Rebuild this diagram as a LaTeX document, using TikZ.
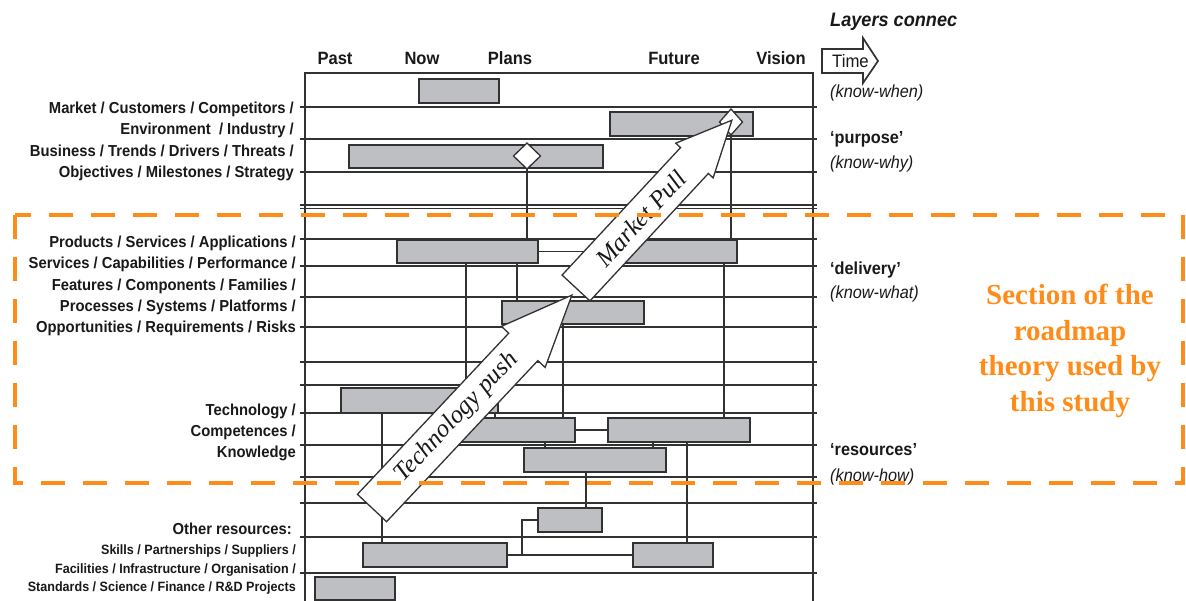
\documentclass[tikz,border=0pt]{standalone}
\usepackage{fontspec}
\setmainfont[FakeStretch=0.93]{Liberation Sans}
\newfontfamily\orserif{Liberation Serif}
\usetikzlibrary{shapes.geometric}
\definecolor{barfill}{RGB}{190,191,194}
\definecolor{linec}{RGB}{50,50,50}
\definecolor{txtc}{RGB}{25,25,25}
\definecolor{orng}{RGB}{255,140,25}
\begin{document}
\begin{tikzpicture}[x=1pt,y=-1pt,
  gridline/.style={draw=linec, line width=1.3pt},
  framel/.style={draw=linec, line width=1.8pt},
  bar/.style={draw=linec, fill=barfill, line width=1.3pt, inner sep=0, outer sep=0, anchor=north west},
  conn/.style={draw=linec, line width=1.1pt},
  dia/.style={diamond, draw=linec, fill=white, line width=1.3pt, inner sep=0, outer sep=0},
  blockarrow/.style={draw=linec, fill=white, line width=1.3pt, line join=miter},
  arrowtxt/.style={font=\orserif\itshape\fontsize{25}{28}\selectfont, text=txtc, inner sep=0},
  lab/.style={font=\bfseries\fontsize{15.9}{18}\selectfont, text=txtc, anchor=base east, inner sep=0},
  slab/.style={font=\bfseries\fontsize{13.5}{15}\selectfont, text=txtc, anchor=base east, inner sep=0},
  toplab/.style={font=\bfseries\fontsize{17.8}{20}\selectfont, text=txtc, anchor=base, inner sep=0},
  rlab/.style={font=\bfseries\fontsize{17.5}{20}\selectfont, text=txtc, anchor=base west, inner sep=0},
  rit/.style={font=\itshape\fontsize{17.5}{20}\selectfont, text=txtc, anchor=base west, inner sep=0},
  otxt/.style={font=\orserif\bfseries\fontsize{29}{34}\selectfont, text=orng, anchor=base, inner sep=0},
  odash/.style={draw=orng, line width=4pt, dash pattern=on 24pt off 18pt}
]
\useasboundingbox (0,0) rectangle (1186,601);
\fill[white] (0,0) rectangle (1186,601);

% grid lines
\foreach \yy in {107,139,172,205,208.5,239,266,297,327,362,385,413,445,477,503,537,573}
  \draw[gridline] (300,\yy) -- (817,\yy);
\draw[framel] (305,73) -- (813,73);
\draw[framel] (305,72) -- (305,601);
\draw[framel] (813,72) -- (813,601);

% bars
\node[bar, minimum width=80, minimum height=24] (b1) at (419,79) {};
\node[bar, minimum width=143, minimum height=24] (b2) at (610,112) {};
\node[bar, minimum width=254, minimum height=23] (b3) at (349,145) {};
\node[bar, minimum width=141, minimum height=23] (b4) at (397,240) {};
\node[bar, minimum width=137, minimum height=23] (b5) at (600,240) {};
\node[bar, minimum width=142, minimum height=23] (b6) at (502,301) {};
\node[bar, minimum width=157, minimum height=25] (b7) at (341,388) {};
\node[bar, minimum width=115, minimum height=24] (b8) at (460,418) {};
\node[bar, minimum width=142, minimum height=24] (b9) at (608,418) {};
\node[bar, minimum width=142, minimum height=24] (b10) at (524,448) {};
\node[bar, minimum width=64, minimum height=24] (b11) at (538,508) {};
\node[bar, minimum width=144, minimum height=24] (b12) at (363,543) {};
\node[bar, minimum width=80, minimum height=24] (b13) at (633,543) {};
\node[bar, minimum width=80, minimum height=23] (b14) at (315,577) {};

% diamonds
\node[dia, minimum width=27, minimum height=26] (dA) at (527,156) {};
\node[dia, minimum width=23, minimum height=26] (dB) at (731,122) {};

% connectors
\draw[conn] (dA.south) -- (dA.south |- b4.north);
\draw[conn] (dB.south) -- (dB.south |- b5.north);
\draw[conn] (b4.east) -- (b5.west);
\draw[conn] (466,0 |- b4.south) -- (466,0 |- b8.north);
\draw[conn] (517,0 |- b4.south) -- (517,0 |- b6.north);
\draw[conn] (563,0 |- b6.south) -- (563,0 |- b8.north);
\draw[conn] (724,0 |- b5.south) -- (724,0 |- b9.north);
\draw[conn] (495,0 |- b7.south) -- (495,0 |- b8.north);
\draw[conn] (382,0 |- b7.south) -- (382,0 |- b12.north);
\draw[conn] (b8.east) -- (b9.west);
\draw[conn] (545,0 |- b8.south) -- (545,0 |- b10.north);
\draw[conn] (653,0 |- b9.south) -- (653,0 |- b10.north);
\draw[conn] (687,0 |- b9.south) -- (687,0 |- b13.north);
\draw[conn] (586,0 |- b10.south) -- (586,0 |- b11.north);
\draw[conn] (b12.east) -- (b13.west);
\draw[conn] (b11.west) -- (522,0 |- b11.west) -- (522,0 |- b12.east);

% Technology push arrow
\begin{scope}[shift={(372,508)}, rotate=46.8]
  \draw[blockarrow] (0,-20) -- (221,-20) -- (221,-30) -- (292,0) -- (221,30) -- (221,20) -- (0,20) -- cycle;
\end{scope}
\node[arrowtxt, rotate=46.8] (tpush) at (456.8,417.6) {Technology push};

% Market Pull arrow
\begin{scope}[shift={(576,288)}, rotate=47.1]
  \draw[blockarrow] (0,-19) -- (174,-19) -- (174,-25.5) -- (229,0) -- (174,25.5) -- (174,19) -- (0,19) -- cycle;
\end{scope}
\node[arrowtxt, rotate=47.1] (mpull) at (640.7,218.5) {Market Pull};

% Time arrow
\draw[blockarrow, line width=1.7pt] (822,49) -- (863,49) -- (863,38) -- (878,61) -- (863,83) -- (863,73) -- (822,73) -- cycle;
\node[font=\fontsize{18}{20}\selectfont, text=txtc, anchor=base west, inner sep=0] (time) at (832,67.5) {Time};

% top labels
\node[toplab] (past) at (335,65) {Past};
\node[toplab] (now) at (422,65) {Now};
\node[toplab] (plans) at (510,65) {Plans};
\node[toplab] (future) at (674,65) {Future};
\node[toplab] (vision) at (781,65) {Vision};

% left labels
\node[lab] (m1) at (294,113.5) {Market / Customers / Competitors /};
\node[lab] (m2) at (294,135) {Environment\ \ / Industry /};
\node[lab] (m3) at (294,156.5) {Business / Trends / Drivers / Threats /};
\node[lab] (m4) at (294,178) {Objectives / Milestones / Strategy};

\node[lab] (p1) at (296,247.5) {Products / Services / Applications /};
\node[lab] (p2) at (296,268.8) {Services / Capabilities / Performance /};
\node[lab] (p3) at (296,290.1) {Features / Components / Families /};
\node[lab] (p4) at (296,311.4) {Processes / Systems / Platforms /};
\node[lab] (p5) at (296,332.7) {Opportunities / Requirements / Risks};

\node[lab] (t1) at (296,415.5) {Technology /};
\node[lab] (t2) at (296,436.5) {Competences /};
\node[lab] (t3) at (296,457.5) {Knowledge};

\node[lab] (o1) at (292,534.5) {Other resources:};
\node[slab] (o2) at (296,554) {Skills / Partnerships / Suppliers /};
\node[slab] (o3) at (296,573) {Facilities / Infrastructure / Organisation /};
\node[slab] (o4) at (296,591) {Standards / Science / Finance / R\&D Projects};

% right labels
\node[font=\bfseries\itshape\fontsize{19.5}{22}\selectfont, text=txtc, anchor=base west, inner sep=0] (layers) at (830,27) {Layers connec};
\node[rit] (kwhen) at (830,98) {(know-when)};
\node[rlab] (purp) at (830,144) {‘purpose’};
\node[rit] (kwhy) at (830,169) {(know-why)};
\node[rlab] (deliv) at (830,274.5) {‘delivery’};
\node[rit] (kwhat) at (830,299) {(know-what)};
\node[rlab] (resou) at (830,455) {‘resources’};
\node[rit] (khow) at (830,481) {(know-how)};

% orange section
\draw[odash] (15,215) rectangle (1183,483);
\node[otxt] (s1) at (1070,305) {Section of the};
\node[otxt] (s2) at (1070,341) {roadmap};
\node[otxt] (s3) at (1070,376) {theory used by};
\node[otxt] (s4) at (1070,411) {this study};
\end{tikzpicture}
\end{document}
